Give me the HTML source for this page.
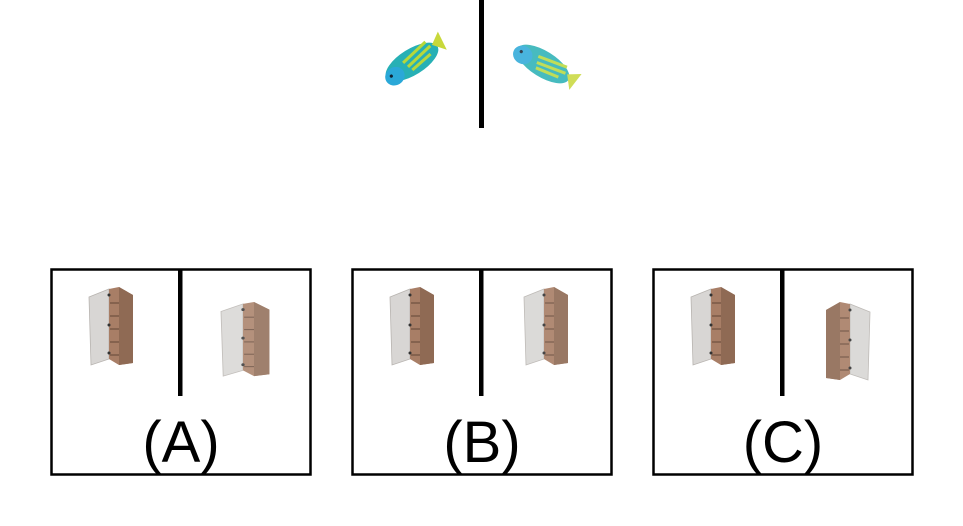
<!DOCTYPE html>
<html><head><meta charset="utf-8"><style>
html,body{margin:0;padding:0;background:#fff;}
svg{display:block;font-family:"Liberation Sans",sans-serif;}
</style></head><body>
<svg width="963" height="526" viewBox="0 0 963 526">
<defs>
  <g id="cab">
    <polygon points="0,10 20,2 20,72 2,78" fill="#d8d6d4" stroke="#b8b4b0" stroke-width="0.8"/>
    <polygon points="20,2 30,0 44,8 44,76 30,78 20,72" fill="#a87e66"/>
    <polygon points="30,0 44,8 44,76 30,78" fill="#8f6a54"/>
    <g stroke="#6e4f3e" stroke-width="1.2">
      <line x1="21" y1="16" x2="30" y2="16"/><line x1="21" y1="29" x2="30" y2="29"/>
      <line x1="21" y1="42" x2="30" y2="42"/><line x1="21" y1="55" x2="30" y2="55"/>
      <line x1="21" y1="68" x2="30" y2="68"/>
    </g>
    <circle cx="20" cy="8" r="1.5" fill="#333"/><circle cx="20" cy="38" r="1.5" fill="#333"/><circle cx="20" cy="66" r="1.5" fill="#333"/>
  </g>
  <g id="fish">
    <ellipse cx="0" cy="0" rx="30" ry="13" fill="#27b0b5"/>
    <ellipse cx="-22" cy="3" rx="10" ry="9" fill="#2aa8d8"/>
    <path d="M-8,-4 L22,-10 M-6,2 L24,-4 M-4,7 L20,3" stroke="#b7d83a" stroke-width="3"/>
    <polygon points="26,-4 38,-12 36,8" fill="#c8d83a"/>
    <circle cx="-25" cy="1" r="1.6" fill="#123"/>
  </g>
</defs>
<g>
  <use href="#fish" transform="translate(412,62) rotate(-32)"/>
  <use href="#fish" transform="translate(543,64) rotate(32)" opacity="0.85"/>
  <rect x="479" y="0" width="5" height="128" fill="#000"/>
</g>
<g>
  <rect x="51.5" y="269.5" width="259" height="205" fill="none" stroke="#000" stroke-width="2.5"/>
  <rect x="178" y="269" width="4.5" height="127" fill="#000"/>
  <use href="#cab" transform="translate(89,287)"/>
  <use href="#cab" transform="translate(221,302) scale(1.1,0.95)" opacity="0.85"/>
  <text x="181" y="462" font-size="58" text-anchor="middle">(A)</text>
</g>
<g>
  <rect x="352.5" y="269.5" width="259" height="205" fill="none" stroke="#000" stroke-width="2.5"/>
  <rect x="479" y="269" width="4.5" height="127" fill="#000"/>
  <use href="#cab" transform="translate(390,287)"/>
  <use href="#cab" transform="translate(524,287)" opacity="0.9"/>
  <text x="482" y="462" font-size="58" text-anchor="middle">(B)</text>
</g>
<g>
  <rect x="653.5" y="269.5" width="259" height="205" fill="none" stroke="#000" stroke-width="2.5"/>
  <rect x="780" y="269" width="4.5" height="127" fill="#000"/>
  <use href="#cab" transform="translate(691,287)"/>
  <use href="#cab" transform="translate(870,302) scale(-1,1)" opacity="0.9"/>
  <text x="783" y="462" font-size="58" text-anchor="middle">(C)</text>
</g>
</svg>
</body></html>
